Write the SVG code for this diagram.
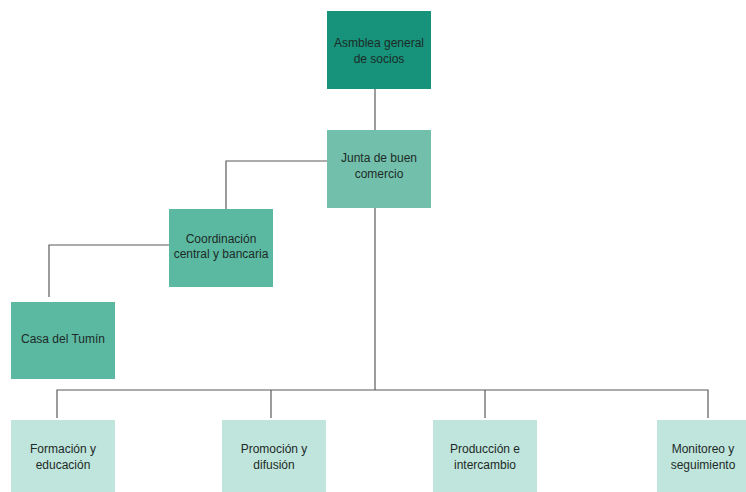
<svg xmlns="http://www.w3.org/2000/svg" width="746" height="492" viewBox="0 0 746 492">
  <style>
    .lbl { font-family: "Liberation Sans", Arial, sans-serif; font-size: 12px; fill: #1d2a27; text-anchor: middle; }
    .wire { fill: none; stroke: #5a5a5a; stroke-width: 1.2; }
    .top { fill: #16937a; }
    .mid { fill: #72c0ab; }
    .side { fill: #5bb9a1; }
    .leaf { fill: #c0e5dd; }
  </style>
  <rect width="746" height="492" fill="#ffffff"/>

  <!-- connectors -->
  <g id="connectors">
    <path class="wire" d="M375 89 V130"/>
    <path class="wire" d="M327 161 H226 V209"/>
    <path class="wire" d="M169 245 H49 V297"/>
    <path class="wire" d="M375 208 V390"/>
    <path class="wire" d="M57 418 V390 H708 V418"/>
    <path class="wire" d="M271 390 V418"/>
    <path class="wire" d="M485 390 V418"/>
  </g>

  <g id="asamblea">
    <rect class="top" x="327" y="11" width="104" height="78"/>
    <text class="lbl" x="379" y="47">Asmblea general</text>
    <text class="lbl" x="379" y="63">de socios</text>
  </g>

  <g id="junta">
    <rect class="mid" x="327" y="130" width="104" height="78"/>
    <text class="lbl" x="379" y="162">Junta de buen</text>
    <text class="lbl" x="379" y="178">comercio</text>
  </g>

  <g id="coordinacion">
    <rect class="side" x="169" y="209" width="104" height="78"/>
    <text class="lbl" x="221" y="243">Coordinación</text>
    <text class="lbl" x="221" y="258">central y bancaria</text>
  </g>

  <g id="casa">
    <rect class="side" x="11" y="302" width="104" height="77"/>
    <text class="lbl" x="63" y="343">Casa del Tumín</text>
  </g>

  <g id="formacion">
    <rect class="leaf" x="11" y="420" width="104" height="72"/>
    <text class="lbl" x="63" y="453">Formación y</text>
    <text class="lbl" x="63" y="469">educación</text>
  </g>

  <g id="promocion">
    <rect class="leaf" x="222" y="420" width="104" height="72"/>
    <text class="lbl" x="274" y="453">Promoción y</text>
    <text class="lbl" x="274" y="469">difusión</text>
  </g>

  <g id="produccion">
    <rect class="leaf" x="433" y="420" width="104" height="72"/>
    <text class="lbl" x="485" y="453">Producción e</text>
    <text class="lbl" x="485" y="469">intercambio</text>
  </g>

  <g id="monitoreo">
    <rect class="leaf" x="657" y="420" width="104" height="72"/>
    <text class="lbl" x="703" y="453">Monitoreo y</text>
    <text class="lbl" x="703" y="469">seguimiento</text>
  </g>
</svg>
